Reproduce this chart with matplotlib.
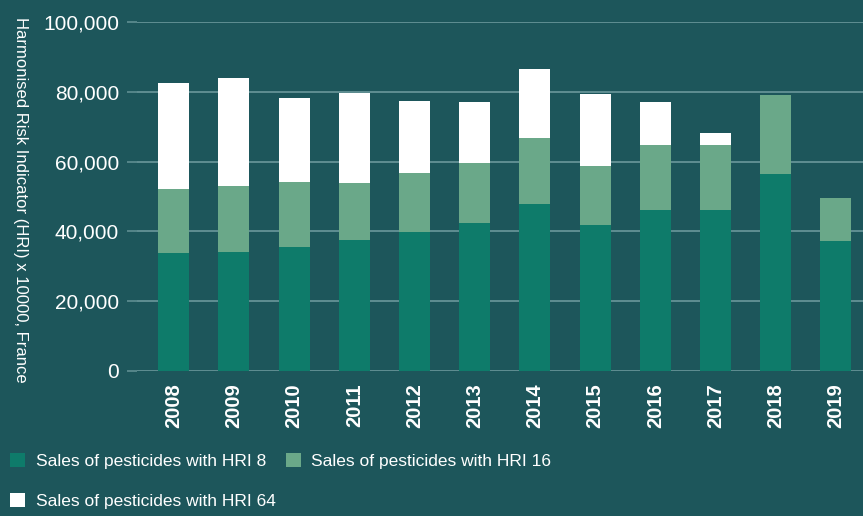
import matplotlib
matplotlib.use("Agg")
import matplotlib.pyplot as plt
import numpy as np

years = ["2008", "2009", "2010", "2011", "2012", "2013",
         "2014", "2015", "2016", "2017", "2018", "2019"]
# stacked segment values
hri8 = [33750, 34050, 35500, 37500, 39800, 42350, 47800, 41800, 46100, 46100, 56400, 37200]
hri16 = [18350, 18900, 18600, 16300, 16900, 17200, 18900, 16900, 18600, 18600, 22700, 12300]
hri64 = [30400, 31000, 24100, 25800, 20650, 17500, 19800, 20650, 12350, 3450, 0, 0]

bg = "#1d565b"
c8 = "#0e7b6a"
c16 = "#6aa889"
c64 = "#ffffff"
grid_c = "#5f8e92"

plt.rcParams["font.family"] = ["Liberation Sans", "DejaVu Sans"]

fig = plt.figure(figsize=(8.63, 5.16), dpi=100, facecolor=bg)
ax = fig.add_axes([137 / 863, 1 - 371 / 516, (863 - 137) / 863, (371 - 22) / 516])
ax.set_facecolor(bg)

x = np.arange(len(years))
w = 0.515
b1 = ax.bar(x, hri8, w, color=c8, zorder=3)
b2 = ax.bar(x, hri16, w, bottom=hri8, color=c16, zorder=3)
bottom64 = np.array(hri8) + np.array(hri16)
b3 = ax.bar(x, hri64, w, bottom=bottom64, color=c64, zorder=3)

ax.set_ylim(0, 100000)
ax.set_xlim(-0.61, 11.45)
ax.set_yticks(np.arange(0, 100001, 20000))
ax.set_yticklabels([f"{v:,}" for v in range(0, 100001, 20000)], color="white", fontsize=15)
ax.yaxis.grid(True, color=grid_c, linewidth=1.4, zorder=0)
ax.tick_params(axis="y", length=7, color=grid_c, width=1.2, pad=6)
ax.set_xticks(x)
ax.set_xticklabels(years, rotation=90, color="white", fontsize=14.5, fontweight="bold")
ax.tick_params(axis="x", length=0, pad=9)
for s in ax.spines.values():
    s.set_visible(False)

ax.set_ylabel("Harmonised Risk Indicator (HRI) x 10000, France", color="white",
              fontsize=12, rotation=270, va="center")
ax.yaxis.set_label_coords(-0.16, 0.49)

fig.legend(handles=[b1, b3, b2], labels=["Sales of pesticides with HRI 8",
                                         "Sales of pesticides with HRI 64",
                                         "Sales of pesticides with HRI 16"],
           ncol=2, loc="upper left", bbox_to_anchor=(0.0, 1 - 443 / 516),
           frameon=False, fontsize=12.5, labelcolor="white",
           handlelength=0.85, handleheight=0.85, handletextpad=0.6,
           columnspacing=0.6, labelspacing=1.35, borderaxespad=0.2)

fig.savefig("out.png", dpi=100, facecolor=bg)
